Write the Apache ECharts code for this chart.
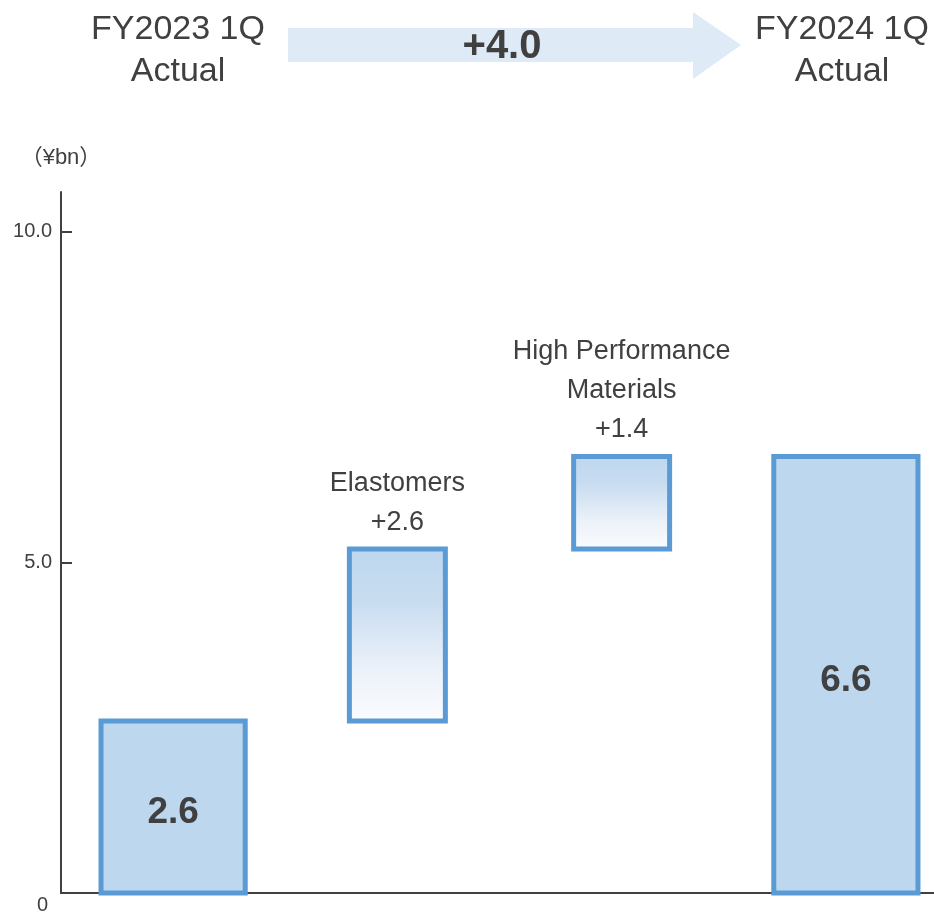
<!DOCTYPE html>
<html>
<head>
<meta charset="utf-8">
<script src="https://cdn.jsdelivr.net/npm/echarts@6/dist/echarts.min.js"></script>
<style>
  html, body { margin: 0; padding: 0; background: #ffffff; }
  #chart { width: 934px; height: 912px; }
</style>
</head>
<body>
<div id="chart"></div>
<script>
// Operating income bridge, FY2023 1Q -> FY2024 1Q (¥bn)
const categories = ['FY2023 1Q\nActual', 'Elastomers', 'High Performance\nMaterials', 'FY2024 1Q\nActual'];
const startTotal = 2.6;
const segmentDeltas = [2.6, 1.4];          // Elastomers, High Performance Materials
const endTotal = 6.6;
const yTickValues = [0, 5, 10];
const unitLabel = '（¥bn）';

const FONT = "'Liberation Sans', Arial, 'Noto Sans CJK JP', sans-serif";
const TEXT = '#404040';
const EDGE = '#5b9bd5';
const FILL = '#bdd7ee';

// Build waterfall segments: [categoryIndex, low, high]
const kinds = [];
const items = [];
items.push([0, 0, startTotal]); kinds.push('total');
let running = startTotal;
segmentDeltas.forEach((d, k) => {
  items.push([k + 1, running, running + d]); kinds.push('delta');
  running += d;
});
items.push([categories.length - 1, 0, endTotal]); kinds.push('total');

const fmtDelta = v => (v >= 0 ? '+' : '') + v.toFixed(1);

const deltaFill = new echarts.graphic.LinearGradient(0, 0, 0, 1, [
  { offset: 0, color: '#bdd7ee' },
  { offset: 0.3, color: '#c8dcf0' },
  { offset: 0.7, color: '#ecf2f9' },
  { offset: 1, color: '#fbfcfe' }
]);

function renderItem(params, api) {
  const i = api.value(0);
  const lo = api.value(1);
  const hi = api.value(2);
  const kind = kinds[params.dataIndex];
  const top = api.coord([i, hi]);
  const bot = api.coord([i, lo]);
  const band = api.size([1, 0])[0];
  const w = band * (kind === 'total' ? 0.643 : 0.428);
  const cx = top[0];
  const children = [{
    type: 'rect',
    shape: { x: cx - w / 2, y: top[1], width: w, height: bot[1] - top[1] },
    style: { fill: kind === 'total' ? FILL : deltaFill, stroke: EDGE, lineWidth: 5 }
  }];
  if (kind === 'total') {
    children.push({
      type: 'text',
      style: {
        text: hi.toFixed(1), x: cx, y: (top[1] + bot[1]) / 2 + 6,
        align: 'center', verticalAlign: 'middle',
        fontSize: 37, fontWeight: 'bold', fontFamily: FONT, fill: TEXT
      }
    });
  } else {
    children.push({
      type: 'text',
      style: {
        text: categories[i] + '\n' + fmtDelta(hi - lo), x: cx, y: top[1] - 7,
        align: 'center', verticalAlign: 'bottom',
        fontSize: 27, lineHeight: 39, fontFamily: FONT, fill: TEXT
      }
    });
  }
  return { type: 'group', children };
}

const chart = echarts.init(document.getElementById('chart'), null, { renderer: 'canvas' });

const firstLabel = categories[0];
const lastLabel = categories[categories.length - 1];

chart.setOption({
  backgroundColor: '#ffffff',
  animation: false,
  // the plot area runs past the right edge, so the last band is cut by the frame
  grid: { left: 61, width: 897, top: 192, bottom: 19, containLabel: false, outerBoundsMode: 'none' },
  xAxis: {
    type: 'category',
    data: categories,
    axisLine: { show: true, lineStyle: { color: TEXT, width: 2 } },
    axisTick: { show: false },
    axisLabel: { show: false },
    splitLine: { show: false }
  },
  yAxis: {
    type: 'value',
    min: 0,
    max: 10.6,
    name: unitLabel,
    nameLocation: 'end',
    nameGap: 34,
    nameTextStyle: { color: TEXT, fontSize: 22, fontFamily: FONT, align: 'center', verticalAlign: 'middle' },
    axisLine: { show: true, lineStyle: { color: TEXT, width: 2 } },
    axisTick: { show: true, inside: true, length: 11, lineStyle: { color: TEXT, width: 2 }, customValues: yTickValues },
    axisLabel: {
      color: TEXT, fontSize: 20, fontFamily: FONT, margin: 9,
      customValues: yTickValues,
      formatter: v => (v === 0 ? '{z|0}' : v.toFixed(1)),
      rich: { z: { fontSize: 20, fontFamily: FONT, color: TEXT, padding: [24, 4, 0, 0] } }
    },
    splitLine: { show: false }
  },
  graphic: [
    {
      type: 'polygon',
      shape: { points: [[288, 28], [693, 28], [693, 12], [741, 45], [693, 79], [693, 62], [288, 62]] },
      style: { fill: '#deeaf6' },
      z: 1
    },
    {
      type: 'text', z: 2,
      style: {
        text: fmtDelta(endTotal - startTotal), x: 502, y: 47,
        align: 'center', verticalAlign: 'middle',
        fontSize: 40, fontWeight: 'bold', fontFamily: FONT, fill: TEXT
      }
    },
    {
      type: 'text', z: 2,
      style: {
        text: firstLabel, x: 178, y: 9, align: 'center', verticalAlign: 'top',
        fontSize: 34, lineHeight: 42, fontFamily: FONT, fill: TEXT
      }
    },
    {
      type: 'text', z: 2,
      style: {
        text: lastLabel, x: 842, y: 9, align: 'center', verticalAlign: 'top',
        fontSize: 34, lineHeight: 42, fontFamily: FONT, fill: TEXT
      }
    }
  ],
  series: [{
    type: 'custom',
    renderItem,
    data: items,
    encode: { x: 0, y: [1, 2] },
    clip: false
  }]
});
</script>
</body>
</html>
